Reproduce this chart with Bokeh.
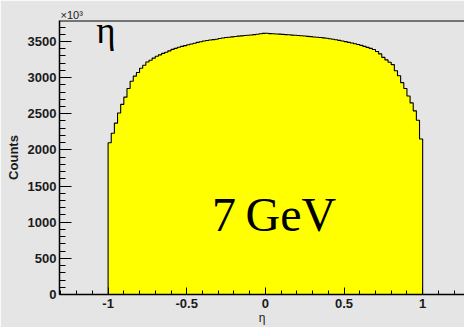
import numpy as np
from bokeh.plotting import figure
from bokeh.models import (Range1d, Span, Label, SingleIntervalTicker,
                          CustomJSTickFormatter)
from bokeh.embed import file_html
from bokeh.resources import INLINE

# ---- data (counts in units of 10^3) ----
eta_min = -1.0
eta_max = 1.0
n_bins = 100
counts_k = [
    2100, 2230, 2370, 2510, 2630, 2730, 2850, 2950, 3020, 3070,
    3130, 3170, 3215, 3240, 3270, 3295, 3315, 3335, 3350, 3370,
    3390, 3405, 3420, 3432, 3443, 3454, 3465, 3476, 3487, 3496,
    3506, 3514, 3520, 3526, 3531, 3540, 3548, 3554, 3559, 3564,
    3569, 3574, 3578, 3583, 3587, 3590, 3595, 3600, 3606, 3612,
    3614, 3609, 3606, 3604, 3601, 3598, 3595, 3592, 3588, 3585,
    3582, 3579, 3575, 3571, 3567, 3562, 3558, 3554, 3550, 3545,
    3538, 3531, 3523, 3515, 3507, 3498, 3488, 3478, 3468, 3458,
    3446, 3432, 3418, 3404, 3388, 3362, 3328, 3280, 3245, 3212,
    3180, 3095, 3025, 2930, 2850, 2745, 2650, 2540, 2410, 2150,
]
x_label = "η"
y_label = "Counts"
exponent_label = "×10³"
hist_label = "η"
energy_label = "7\u2009GeV"

edges = np.linspace(eta_min, eta_max, n_bins + 1)

# step outline built from the histogram bins
step_x = []
step_y = []
for i, c in enumerate(counts_k):
    step_x += [edges[i], edges[i + 1]]
    step_y += [c, c]
outline_x = [edges[0]] + step_x + [edges[-1]]
outline_y = [0] + step_y + [0]

bg = "#e5e5e5"
txt = "#1a1a1a"

x0, x1 = -1.309, 1.266
y0, y1 = 0, 3790

p = figure(width=464, height=327, x_range=Range1d(x0, x1), y_range=Range1d(y0, y1),
           output_backend="svg", toolbar_location=None,
           min_border_left=59, min_border_right=0, min_border_top=20, min_border_bottom=31,
           background_fill_color=bg, border_fill_color=bg, outline_line_color=None)
p.grid.visible = False

p.title.text = exponent_label
p.title.align = "left"
p.title.text_font = "Liberation Sans"
p.title.text_font_style = "normal"
p.title.text_font_size = "11px"
p.title.text_color = txt
p.title.standoff = 0
p.title.offset = 1

p.varea(x=step_x, y1=[0] * len(step_y), y2=step_y, fill_color="#ffff00")
p.line(outline_x, outline_y, line_color="black", line_width=1.1)

p.xaxis.ticker = SingleIntervalTicker(interval=0.5, num_minor_ticks=5)
p.yaxis.ticker = SingleIntervalTicker(interval=500, num_minor_ticks=5)
p.xaxis.formatter = CustomJSTickFormatter(code="return Number(tick.toFixed(2)).toString();")

for ax in (p.xaxis[0], p.yaxis[0]):
    ax.major_tick_out = 0
    ax.minor_tick_out = 0
    ax.axis_line_color = "black"
    ax.axis_line_width = 1.5
    ax.major_tick_line_color = "black"
    ax.minor_tick_line_color = "black"
    ax.major_label_text_font = "Liberation Sans"
    ax.major_label_text_font_style = "bold"
    ax.major_label_text_font_size = "13px"
    ax.major_label_text_color = txt

p.xaxis.major_tick_in = 7
p.xaxis.minor_tick_in = 4
p.yaxis.major_tick_in = 12
p.yaxis.minor_tick_in = 6
p.xaxis.major_label_standoff = 4
p.yaxis.major_label_standoff = 3

p.xaxis.axis_label = x_label
p.xaxis.axis_label_text_font = "Liberation Sans"
p.xaxis.axis_label_text_font_style = "normal"
p.xaxis.axis_label_text_font_size = "12px"
p.xaxis.axis_label_text_color = txt
p.xaxis.axis_label_standoff = 0

p.yaxis.axis_label = y_label
p.yaxis.axis_label_text_font = "Liberation Sans"
p.yaxis.axis_label_text_font_style = "bold"
p.yaxis.axis_label_text_font_size = "13px"
p.yaxis.axis_label_text_color = txt
p.yaxis.axis_label_standoff = 4

p.add_layout(Span(location=y1, dimension="width", line_color="black", line_width=2))

p.add_layout(Label(x=-1.075, y=3646, text=hist_label,
                   text_align="left", text_baseline="alphabetic",
                   text_font="Liberation Serif", text_font_size="37px", text_color="black"))
p.add_layout(Label(x=-0.34, y=1112, text=energy_label,
                   text_align="left", text_baseline="alphabetic",
                   text_font="Liberation Serif", text_font_size="48px", text_color="black"))

open("out.html", "w").write(file_html(p, INLINE))
